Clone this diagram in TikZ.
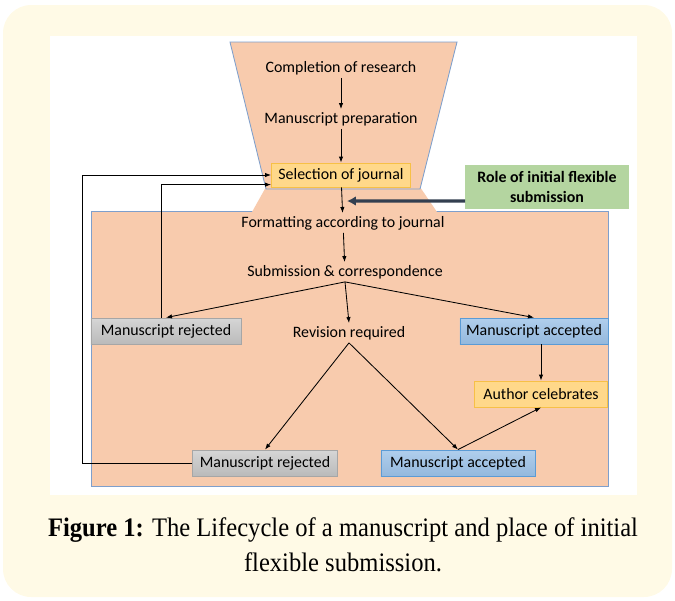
\documentclass[tikz,border=0pt]{standalone}
\usepackage{fontspec}
\setmainfont{Carlito}
\newfontfamily\capfont{Liberation Serif}
\usetikzlibrary{positioning, arrows.meta}

\definecolor{cream}{HTML}{FFFAE6}
\definecolor{peach}{HTML}{F8CBAD}
\definecolor{edgeblue}{HTML}{7E9FCC}
\definecolor{goldfill}{HTML}{FFD88A}
\definecolor{golddraw}{HTML}{F7C046}
\definecolor{grayfill}{HTML}{C4C4C4}
\definecolor{graydraw}{HTML}{A6A6A6}
\definecolor{bluefill}{HTML}{9CC2E8}
\definecolor{bluedraw}{HTML}{5B9BD5}
\definecolor{greenfill}{HTML}{B4D5A0}
\definecolor{roleline}{HTML}{333F50}

\begin{document}
\begin{tikzpicture}[
	% one unit is one pixel of the figure, y runs downwards
	x=0.025cm, y=-0.025cm,
	% plain stage text inside the funnel
	stage/.style={
		font=\fontsize{11.3}{13}\selectfont,
		inner sep=2pt
	},
	% Style for the coloured boxes
	box/.style={
		rectangle,
		draw,
		line width=0.6pt,
		font=\fontsize{11.3}{13}\selectfont,
		minimum height=0.65cm,
		inner sep=2pt
	},
	selectbox/.style={
		box,
		draw=golddraw,
		fill=goldfill,
		minimum width=3.475cm,
		minimum height=0.6cm
	},
	rejected/.style={
		box,
		draw=graydraw,
		top color=grayfill!70!white,
		bottom color=grayfill!95!black
	},
	accepted/.style={
		box,
		draw=bluedraw,
		top color=bluefill!80!white,
		bottom color=bluefill!95!black
	},
	celebrate/.style={
		box,
		draw=golddraw,
		fill=goldfill,
		minimum width=3.325cm
	},
	rolebox/.style={
		rectangle,
		fill=greenfill,
		align=center,
		font=\fontsize{11.3}{14}\selectfont\bfseries,
		minimum width=4.075cm,
		minimum height=1.1cm
	},
	arr/.style={
		line width=0.6pt,
		-{Latex[length=1.5mm, width=1.1mm]}
	},
	rolearr/.style={
		line width=2.2pt,
		roleline,
		-{Latex[length=2.2mm, width=2.4mm]}
	}
	]
	\useasboundingbox (0,0) rectangle (675,600);
	% page background and white panel
	\fill[cream, rounded corners=20pt] (3,5) rectangle (672,597);
	\fill[white] (50,36) rectangle (637,495);
	
	% funnel, neck and lower body
	\draw[fill=peach, draw=edgeblue, line width=0.6pt] (91,211) rectangle (608,486);
	\fill[peach] (266,187) -- (420,187) -- (437,212) -- (252,212) -- cycle;
	\draw[fill=peach, draw=edgeblue, line width=0.6pt] (230,42) -- (457,42) -- (420,189) -- (266,189) -- cycle;
	
	% Stages of the lifecycle
	\node[stage] (comp) at (341,68) {Completion of research};
	\node[stage] (prep) at (341,119) {Manuscript preparation};
	\node[selectbox] (sel) at (341,175) {Selection of journal};
	\node[stage] (fmt) at (343,223) {Formatting according to journal};
	\node[stage] (sub) at (345,272) {Submission \& correspondence};
	\node[rejected, minimum width=3.75cm] (rej1) at (166,331) {Manuscript rejected};
	\node[stage] (rev) at (349,333) {Revision required};
	\node[accepted, minimum width=3.7cm] (acc1) at (534,331) {Manuscript accepted};
	\node[celebrate] (cel) at (541,394) {Author celebrates};
	\node[rejected, minimum width=3.625cm] (rej2) at (265,463) {Manuscript rejected};
	\node[accepted, minimum width=3.85cm] (acc2) at (458,463) {Manuscript accepted};
	\node[rolebox] (role) at (547,187) {Role of initial flexible\\submission};
	\coordinate (roletip) at (347,201);
	
	% Connectors
	\draw[arr] (comp) -- (prep);
	\draw[arr] (prep) -- (sel);
	\draw[arr] (sel) -- (fmt);
	\draw[arr] (fmt) -- (sub);
	\draw[arr] (sub.south) -- (rej1.north);
	\draw[arr] (sub.south) -- (rev.north);
	\draw[arr] (sub.south) -- (acc1.north);
	\draw[arr] (acc1.south -| cel.north) -- (cel.north);
	\draw[arr] (rev.south) -- (rej2.north);
	\draw[arr] (rev.south) -- (acc2.north);
	\draw[arr] (acc2.north) -- (cel.south);
	\draw[arr] (rej2.west) -| (82,175) -- (sel.west);
	\draw[arr] ([xshift=-3pt]rej1.north) |- ([yshift=2pt]sel.south west);
	\draw[rolearr] ([yshift=-0.35cm]role.west) -- (roletip);
	
	% Caption
	\node[align=center, font=\capfont\fontsize{19}{25}\selectfont] (cap) at (343,545)
		{\scalebox{0.92}[1]{\textbf{Figure 1:} The Lifecycle of a manuscript and place of initial}\\
		 \scalebox{0.92}[1]{flexible submission.}};
\end{tikzpicture}
\end{document}
